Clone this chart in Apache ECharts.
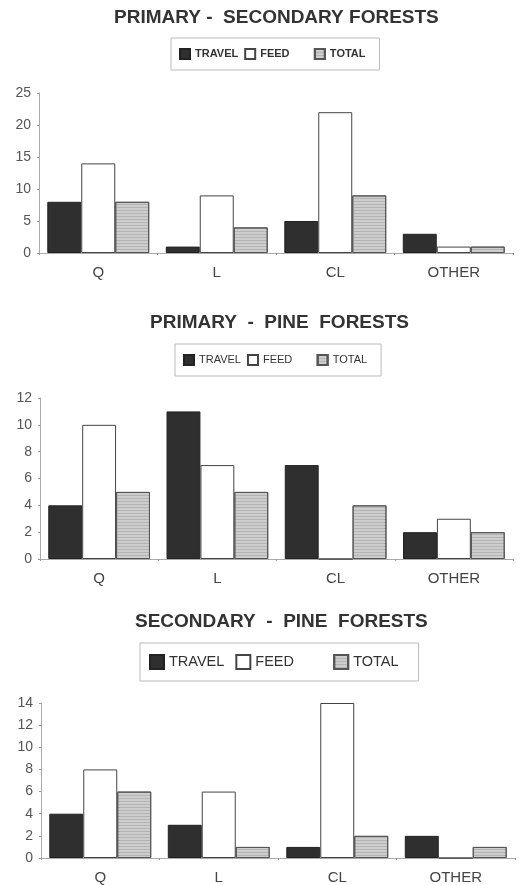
<!DOCTYPE html>
<html><head><meta charset="utf-8">
<script src="https://cdn.jsdelivr.net/npm/echarts@6/dist/echarts.min.js"></script>
<style>html,body{margin:0;padding:0;background:#fff}#c{width:532px;height:885px}</style>
</head><body><div id="c"></div>
<script>
const categories = ['Q', 'L', 'CL', 'OTHER'];
const titles = ['PRIMARY -  SECONDARY FORESTS', 'PRIMARY  -  PINE  FORESTS', 'SECONDARY  -  PINE  FORESTS'];
const travel1 = [8, 1, 5, 3];
const feed1 = [14, 9, 22, 1];
const total1 = [8, 4, 9, 1];
const travel2 = [4, 11, 7, 2];
const feed2 = [10, 7, 0, 3];
const total2 = [5, 5, 4, 2];
const travel3 = [4, 3, 1, 2];
const feed3 = [8, 6, 14, 0];
const total3 = [6, 1, 2, 1];
const yMax = [25, 12, 14];
const yInterval = [5, 2, 2];

const panels = [
  {travel: travel1, feed: feed1, total: total1},
  {travel: travel2, feed: feed2, total: total2},
  {travel: travel3, feed: feed3, total: total3}
];

const grids = [
  {left: 39, right: 19, top: 93, bottom: 632},
  {left: 40, right: 19, top: 398, bottom: 326},
  {left: 41, right: 17, top: 703, bottom: 27}
];
const titleTops = [3, 308, 607];
const titleLefts = [109, 145, 130];
const legends = [
  {left: 171, top: 38, size: 10, font: 11, weight: 'bold', pad: [10, 14, 10, 8], gap: 6, feedSp: 6},
  {left: 175, top: 344, size: 10, font: 11, weight: 'normal', pad: [10, 14, 10, 8], gap: 6, feedSp: 6},
  {left: 140, top: 643, size: 14, font: 14.5, weight: 'normal', pad: [11, 20, 11, 9], gap: 11, feedSp: 7}
];

const chart = echarts.init(document.getElementById('c'), null, {renderer: 'canvas'});
const option = {
  backgroundColor: '#fff',
  animation: false,
  title: titles.map((t, i) => ({
    text: t, left: titleLefts[i], top: titleTops[i],
    textStyle: {fontFamily: 'Arial, Liberation Sans', fontSize: 19, fontWeight: 'bold', color: '#333'}
  })),
  legend: legends.map((l, i) => ({
    left: l.left, top: l.top, orient: 'horizontal',
    borderColor: '#bbb', borderWidth: 1, padding: l.pad,
    itemWidth: l.size, itemHeight: l.size, itemGap: l.gap, icon: 'rect',
    formatter: n => n === 'FEED' ? n + '\u00a0'.repeat(l.feedSp) : n,
    textStyle: {fontFamily: 'Arial, Liberation Sans', fontSize: l.font, fontWeight: l.weight, color: '#333'},
    data: ['TRAVEL', 'FEED', 'TOTAL'],
    selectedMode: false
  })),
  grid: grids,
  xAxis: grids.map((g, i) => ({
    type: 'category', gridIndex: i, data: categories,
    axisLine: {lineStyle: {color: '#aaa'}},
    axisTick: {show: true, length: 2, lineStyle: {color: '#999'}},
    axisLabel: {fontFamily: 'Arial, Liberation Sans', fontSize: 15, color: '#444', margin: 12}
  })),
  yAxis: grids.map((g, i) => ({
    type: 'value', gridIndex: i, min: 0, max: yMax[i], interval: yInterval[i],
    axisLine: {show: true, lineStyle: {color: '#aaa'}},
    axisTick: {show: true, length: 2, lineStyle: {color: '#999'}},
    splitLine: {show: false},
    axisLabel: {fontFamily: 'Arial, Liberation Sans', fontSize: 14, color: '#555', margin: 8}
  })),
  series: []
};
panels.forEach((p, i) => {
  const common = {type: 'bar', xAxisIndex: i, yAxisIndex: i, barGap: '0%', barCategoryGap: '14%'};
  option.series.push(Object.assign({}, common, {name: 'TRAVEL', data: p.travel,
    itemStyle: {color: '#2f2f2f', borderColor: '#222', borderWidth: 1}}));
  option.series.push(Object.assign({}, common, {name: 'FEED', data: p.feed,
    itemStyle: {color: '#ffffff', borderColor: '#444', borderWidth: 1}}));
  option.series.push(Object.assign({}, common, {name: 'TOTAL', data: p.total,
    itemStyle: {color: '#cdcdcd', borderColor: '#555', borderWidth: 1,
      decal: {symbol: 'rect', symbolSize: 1, dashArrayX: [1, 0], dashArrayY: [1, 2], color: 'rgba(0,0,0,0.12)'}}}));
});
chart.setOption(option);
</script></body></html>
